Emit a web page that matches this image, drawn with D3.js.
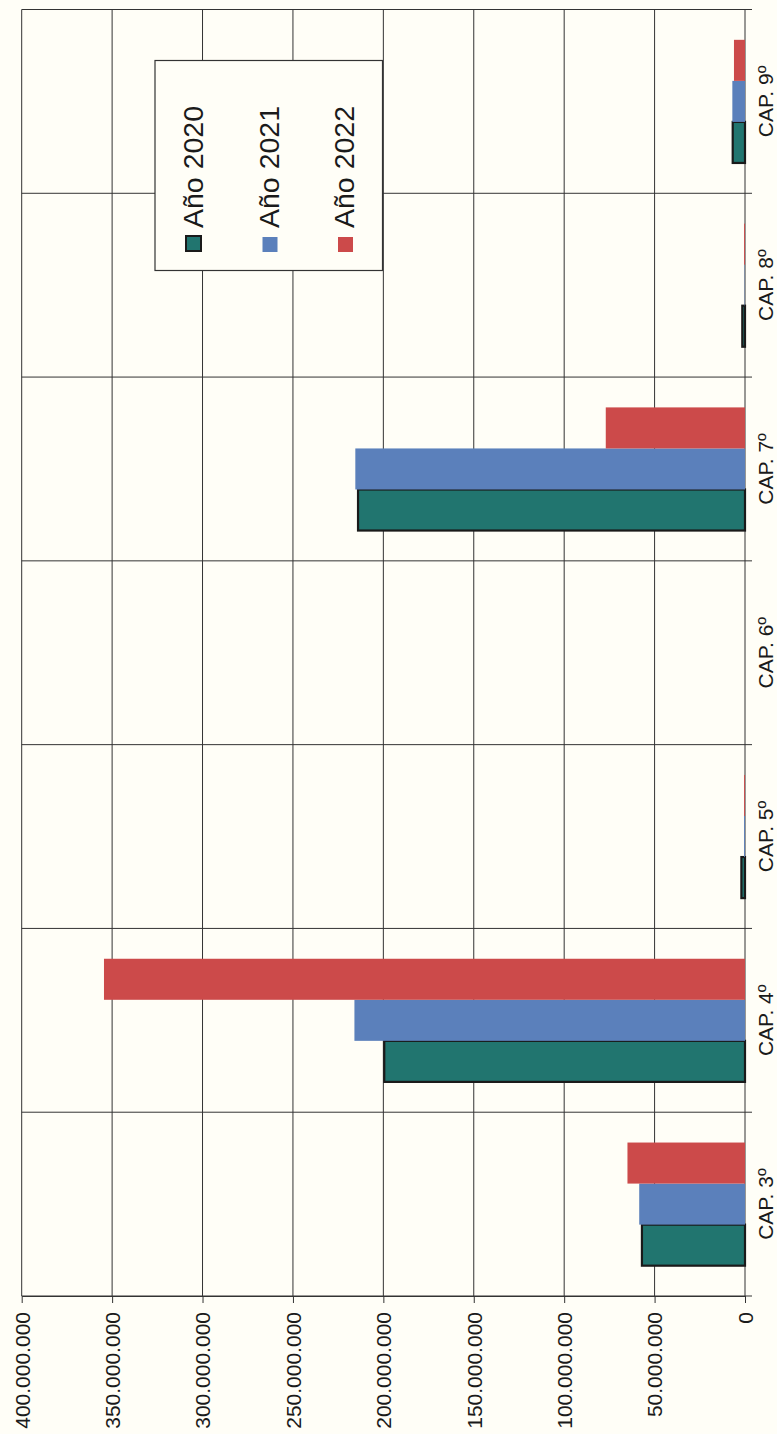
<!DOCTYPE html>
<html>
<head>
<meta charset="utf-8">
<script src="https://cdn.jsdelivr.net/npm/d3@7"></script>
<style>
  body { margin: 0; background: #fffef7; }
  svg { display: block; font-family: "Liberation Sans", Arial, sans-serif; }
</style>
</head>
<body>
<svg id="chart" width="777" height="1434"></svg>
<script>
// data (euros)
var categories = ["CAP. 3º", "CAP. 4º", "CAP. 5º", "CAP. 6º", "CAP. 7º", "CAP. 8º", "CAP. 9º"];
var years = ["Año 2020", "Año 2021", "Año 2022"];
var values2020 = [57000000, 199500000, 2000000, 0, 214000000, 1500000, 6800000];
var values2021 = [58500000, 216000000, 500000, 0, 215500000, 200000, 7000000];
var values2022 = [65000000, 354500000, 500000, 0, 77000000, 500000, 6100000];
var tickValues = [0, 50000000, 100000000, 150000000, 200000000, 250000000, 300000000, 350000000, 400000000];
var colors = ["#21756f", "#5b80bb", "#cc4a4a"];

var series = [values2020, values2021, values2022];

var svg = d3.select("#chart");
var plotLeft = 21.7, plotRight = 745, plotTop = 9.5, plotBottom = 1296;

var locale = d3.formatLocale({ decimal: ",", thousands: ".", grouping: [3], currency: ["", "€"] });
var fmt = locale.format(",.0f");

// value axis runs right to left (chart is turned on its side)
var x = d3.scaleLinear().domain([0, 400000000]).range([plotRight, plotLeft]);
var y = d3.scaleBand().domain(categories).range([plotBottom, plotTop]).paddingInner(0.33).paddingOuter(0.165);
var ySub = d3.scaleBand().domain(years).range([y.bandwidth(), 0]);

svg.append("rect")
  .attr("x", 0).attr("y", 0).attr("width", 777).attr("height", 1434)
  .attr("fill", "#fffef7");

// vertical grid
svg.append("g")
  .selectAll("line")
  .data(tickValues)
  .enter()
  .append("line")
  .attr("x1", d => x(d)).attr("x2", d => x(d))
  .attr("y1", plotTop).attr("y2", plotBottom)
  .attr("stroke", "#333").attr("stroke-width", 1);

// category boundaries
var edges = categories.map(c => y(c) + y.bandwidth() + y.step() * y.paddingInner() / 2);
edges.push(y(categories[categories.length - 1]) - y.step() * y.paddingInner() / 2);
svg.append("g")
  .selectAll("line")
  .data(edges)
  .enter()
  .append("line")
  .attr("x1", plotLeft).attr("x2", plotRight + 7)
  .attr("y1", d => d).attr("y2", d => d)
  .attr("stroke", "#333").attr("stroke-width", 1);

// bars
var groups = svg.append("g")
  .selectAll("g")
  .data(categories)
  .enter()
  .append("g")
  .attr("transform", d => "translate(0," + y(d) + ")");

groups.selectAll("rect")
  .data((c, i) => years.map((yr, s) => ({ year: yr, s: s, value: series[s][i] })))
  .enter()
  .append("rect")
  .attr("x", d => x(d.value))
  .attr("y", d => ySub(d.year))
  .attr("width", d => x(0) - x(d.value))
  .attr("height", ySub.bandwidth())
  .attr("fill", d => colors[d.s])
  .attr("stroke", d => d.s === 0 ? "#1a1a1a" : "none")
  .attr("stroke-width", 2.2);

// value axis at the bottom
var axis = svg.append("g")
  .attr("transform", "translate(0," + plotBottom + ")")
  .call(d3.axisBottom(x).tickValues(tickValues).tickSize(7).tickSizeOuter(0).tickFormat(fmt));
axis.select(".domain").attr("stroke", "#333");
axis.selectAll(".tick line").attr("stroke", "#333");
axis.selectAll(".tick text")
  .attr("transform", "translate(0,16) rotate(-90)")
  .attr("x", 0).attr("y", 0).attr("dy", "0.35em")
  .attr("text-anchor", "end")
  .attr("font-size", 21)
  .attr("fill", "#1a1a1a");

// category labels on the right
svg.append("g")
  .selectAll("text")
  .data(categories)
  .enter()
  .append("text")
  .attr("transform", d => "translate(773," + (y(d) + y.bandwidth() / 2) + ") rotate(-90)")
  .attr("text-anchor", "middle")
  .attr("font-size", 21)
  .attr("fill", "#1a1a1a")
  .text(d => d);

// legend
var legend = svg.append("g");
legend.append("rect")
  .attr("x", 155).attr("y", 60.5).attr("width", 227.5).attr("height", 210)
  .attr("fill", "#fffef7").attr("stroke", "#333").attr("stroke-width", 1.2);

var item = legend.selectAll("g")
  .data(years)
  .enter()
  .append("g")
  .attr("transform", (d, i) => "translate(" + (203 + i * 75.5) + ",0)");

item.append("rect")
  .attr("x", (d, i) => i === 0 ? -17 : -16).attr("y", (d, i) => i === 0 ? 236 : 237)
  .attr("width", 15).attr("height", 15)
  .attr("fill", (d, i) => colors[i])
  .attr("stroke", (d, i) => i === 0 ? "#1a1a1a" : "none")
  .attr("stroke-width", 2);

item.append("text")
  .attr("transform", "translate(0,228) rotate(-90)")
  .attr("font-size", 28.5)
  .attr("fill", "#1a1a1a")
  .text(d => d);
</script>
</body>
</html>
